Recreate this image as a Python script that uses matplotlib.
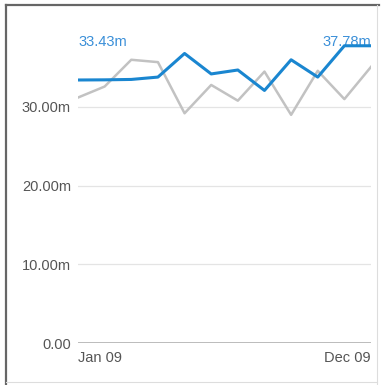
import numpy as np
import matplotlib.pyplot as plt

# monthly values (millions)
months = ['Jan 09', 'Feb 09', 'Mar 09', 'Apr 09', 'May 09', 'Jun 09',
          'Jul 09', 'Aug 09', 'Sep 09', 'Oct 09', 'Nov 09', 'Dec 09']
current = [33.43, 33.45, 33.5, 33.8, 36.8, 34.2, 34.7, 32.1, 36.0, 33.8, 37.78, 37.78]
previous = [31.2, 32.6, 36.0, 35.7, 29.2, 32.8, 30.8, 34.5, 29.0, 34.6, 31.0, 35.1]
yticks = [0, 10, 20, 30]
ytick_labels = ['0.00', '10.00m', '20.00m', '30.00m']

plt.rcParams['font.family'] = ['Liberation Sans', 'DejaVu Sans']

fig = plt.figure(figsize=(3.83, 3.85), dpi=100)

# frame around the widget
fig.add_artist(plt.Line2D([0.015, 0.015], [0.0, 0.986], color='#666666', lw=1.6))
fig.add_artist(plt.Line2D([0.015, 0.99], [0.986, 0.986], color='#666666', lw=1.6))
fig.add_artist(plt.Line2D([0.985, 0.985], [0.0, 0.986], color='#dddddd', lw=0.8))
fig.add_artist(plt.Line2D([0.015, 0.985], [0.008, 0.008], color='#dddddd', lw=0.8))

ax = fig.add_axes([0.2037, 0.109, 0.765, 0.8175])
x = np.arange(len(months))

for y in yticks[1:]:
    ax.axhline(y, color='#e4e4e4', lw=0.9, zorder=0)
ax.axhline(0, color='#b0b0b0', lw=1.2, zorder=0)

ax.plot(x, previous, color='#c2c2c2', lw=1.8, zorder=2)
ax.plot(x, current, color='#1a86d0', lw=2.2, zorder=3)

ax.set_xlim(0, len(months) - 1)
ax.set_ylim(0, 40)
for s in ax.spines.values():
    s.set_visible(False)
ax.set_yticks(yticks)
ax.set_yticklabels(ytick_labels)
ax.tick_params(axis='y', length=0, pad=5, labelsize=10.5, labelcolor='#555555')
ax.set_xticks([])

# first / last month labels
ax.text(0, -1.0, months[0], ha='left', va='top', fontsize=10.5, color='#555555')
ax.text(len(months) - 1, -1.0, months[-1], ha='right', va='top', fontsize=10.5, color='#555555')

# first / last value labels
ax.text(0, 38.2, f'{current[0]:.2f}m', ha='left', va='center', fontsize=10.5, color='#3a8fd8', zorder=1)
ax.text(len(months) - 1, 38.2, f'{current[-1]:.2f}m', ha='right', va='center', fontsize=10.5,
        color='#3a8fd8', zorder=1)

fig.savefig('out.png', dpi=100)
